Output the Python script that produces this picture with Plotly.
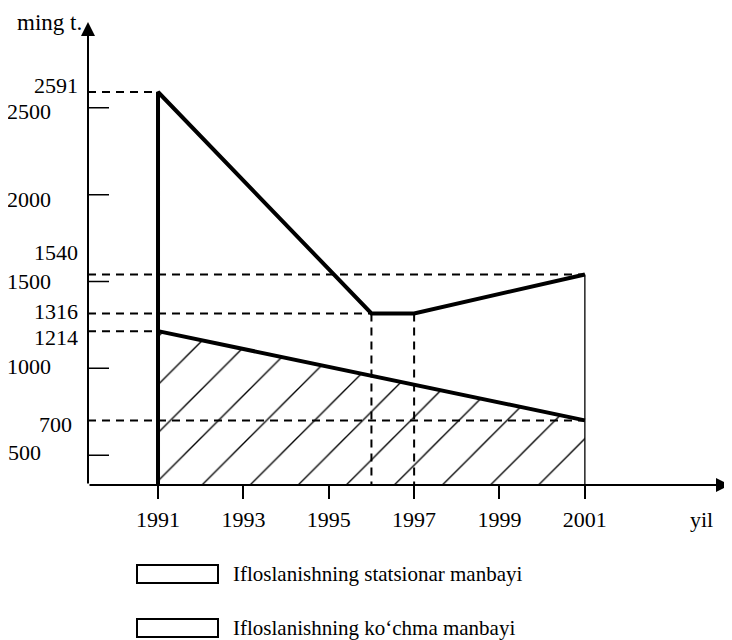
import plotly.graph_objects as go

# ---------------- data ----------------
years_ticks = [1991, 1993, 1995, 1997, 1999, 2001]
tick_labels_x = ["1991", "1993", "1995", "1997", "1999", "2001"]

stat_years = [1991, 1996, 1997, 2001]          # statsionar manba
stat_values = [2591, 1316, 1316, 1540]

mob_years = [1991, 2001]                        # ko'chma manba
mob_values = [1214, 700]

y_major = [2500, 2000, 1500, 1000, 500]         # crossed tick marks
y_label_values = [2591, 2500, 2000, 1540, 1500, 1316, 1214, 1000, 700, 500]
y_label_texts = ["2591", "2500", "2000", "1540", "1500", "1316", "1214", "1000", "700", "500"]

legend_texts = ["Ifloslanishning statsionar manbayi",
                "Ifloslanishning ko\u2018chma manbayi"]
y_title = "ming t."
x_title = "yil"

# ---------------- layout geometry ----------------
OFF = 8                      # page body margin of the browser
W, H = 732 - OFF, 640 - OFF
ML, MR, MT, MB = 88 - OFF, 2, 22 - OFF, 155
PW, PH = W - ML - MR, H - MT - MB
X_MIN, X_MAX = 1989.36, 2004.40
Y_MIN, Y_MAX = 328, 2994

FONT = "Liberation Serif, Times New Roman, serif"
FS = 22


def px_x(px):
    """page pixel -> paper x"""
    return (px - OFF - ML) / PW


def px_y(py):
    """page pixel -> paper y"""
    return (H - MB - (py - OFF)) / PH


fig = go.Figure()

# hatched area under the mobile-source line
fig.add_trace(go.Scatter(
    x=mob_years, y=mob_values, mode="lines",
    line=dict(color="black", width=4),
    fill="tozeroy",
    fillpattern=dict(shape="/", size=34, solidity=0.04, fgcolor="black",
                     bgcolor="white", fillmode="replace"),
    fillcolor="white", showlegend=False, hoverinfo="skip"))

# stationary-source line (with thick vertical at 1991)
fig.add_trace(go.Scatter(
    x=[stat_years[0]] + stat_years, y=[Y_MIN] + stat_values, mode="lines",
    line=dict(color="black", width=4), showlegend=False, hoverinfo="skip"))

# thin vertical at the last year
fig.add_trace(go.Scatter(
    x=[stat_years[-1], stat_years[-1]], y=[stat_values[-1], Y_MIN], mode="lines",
    line=dict(color="black", width=1.3), showlegend=False, hoverinfo="skip"))

shapes = []
dash = "8px,6px"
# horizontal dashed guides
for (xv, yv) in [(stat_years[0], stat_values[0]), (stat_years[-1], stat_values[-1]),
                 (stat_years[1], stat_values[1]), (mob_years[0], mob_values[0]),
                 (mob_years[-1], mob_values[-1])]:
    shapes.append(dict(type="line", xref="x", yref="y", x0=X_MIN, x1=xv, y0=yv, y1=yv,
                       line=dict(color="black", width=2, dash=dash), layer="above"))
# vertical dashed guides
for xv, yv in [(stat_years[1], stat_values[1]), (stat_years[2], stat_values[2])]:
    shapes.append(dict(type="line", xref="x", yref="y", x0=xv, x1=xv, y0=yv, y1=Y_MIN,
                       line=dict(color="black", width=2, dash=dash), layer="above"))
# crossed tick marks on the y axis
for yv in y_major:
    shapes.append(dict(type="line", xref="x", yref="y", xsizemode="pixel", xanchor=X_MIN,
                       x0=-14, x1=21, y0=yv, y1=yv, line=dict(color="black", width=1.5)))
# legend boxes
for cy in [574, 628]:
    shapes.append(dict(type="rect", xref="paper", yref="paper",
                       x0=px_x(137), x1=px_x(218), y0=px_y(cy + 9), y1=px_y(cy - 9),
                       line=dict(color="black", width=2), fillcolor="white"))

annotations = []
# axes with arrows
annotations.append(dict(x=X_MAX, y=Y_MIN, ax=X_MIN, ay=Y_MIN, xref="x", yref="y",
                        axref="x", ayref="y", text="", showarrow=True, arrowhead=2,
                        arrowsize=1.4, arrowwidth=2, arrowcolor="black", standoff=0))
annotations.append(dict(x=X_MIN, y=Y_MAX, ax=X_MIN, ay=Y_MIN, xref="x", yref="y",
                        axref="x", ayref="y", text="", showarrow=True, arrowhead=2,
                        arrowsize=1.4, arrowwidth=2, arrowcolor="black", standoff=0))

# y labels: right edge (page px) and vertical nudge
label_pos = {"2591": (80, 6), "2500": (53, -4), "2000": (53, -5), "1540": (80, 22),
             "1500": (53, 0), "1316": (80, 2), "1214": (80, -6), "1000": (53, 2),
             "700": (74, -4), "500": (43, 3)}
for v, t in zip(y_label_values, y_label_texts):
    rx, ys = label_pos[t]
    annotations.append(dict(x=0, y=v, xref="paper", yref="y", xanchor="right",
                             yanchor="middle", xshift=rx - OFF - ML, yshift=ys, text=t,
                             showarrow=False, font=dict(family=FONT, size=FS, color="black")))

annotations.append(dict(x=px_x(84), y=px_y(OFF), xref="paper", yref="paper", xanchor="right",
                        yanchor="top", text=y_title, showarrow=False,
                        font=dict(family=FONT, size=23, color="black")))
annotations.append(dict(x=px_x(701), y=px_y(519), xref="paper", yref="paper",
                        xanchor="center", yanchor="middle", text=x_title, showarrow=False,
                        font=dict(family=FONT, size=FS, color="black")))
for t, cy in zip(legend_texts, [574, 628]):
    annotations.append(dict(x=px_x(231), y=px_y(cy), xref="paper", yref="paper",
                            xanchor="left", yanchor="middle", text=t, showarrow=False,
                            font=dict(family=FONT, size=21, color="black")))

fig.update_layout(
    width=W, height=H, margin=dict(l=ML, r=MR, t=MT, b=MB),
    paper_bgcolor="white", plot_bgcolor="white",
    showlegend=False, shapes=shapes, annotations=annotations,
    xaxis=dict(range=[X_MIN, X_MAX], tickvals=years_ticks, ticktext=tick_labels_x,
               ticks="outside", ticklen=13, tickwidth=1.5, tickcolor="black",
               showgrid=False, zeroline=False, showline=False, ticklabelstandoff=2,
               tickfont=dict(family=FONT, size=FS, color="black")),
    yaxis=dict(range=[Y_MIN, Y_MAX], showticklabels=False, ticks="", showgrid=False,
               zeroline=False, showline=False),
)

fig.write_html("out.html")
